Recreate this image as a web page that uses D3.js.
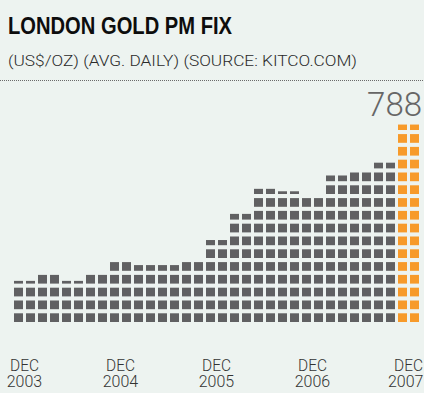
<!DOCTYPE html>
<html>
<head>
<meta charset="utf-8">
<script src="https://cdn.jsdelivr.net/npm/d3@7"></script>
<style>
  html, body { margin: 0; padding: 0; background: #edf3f0; }
  svg { display: block; }
</style>
</head>
<body>
<svg id="chart" width="424" height="393"></svg>
<script>
// Quarterly average of the London PM gold fix, US$ per ounce
const quarters = ["Q4 2003", "Q1 2004", "Q2 2004", "Q3 2004", "Q4 2004",
                  "Q1 2005", "Q2 2005", "Q3 2005", "Q4 2005", "Q1 2006",
                  "Q2 2006", "Q3 2006", "Q4 2006", "Q1 2007", "Q2 2007",
                  "Q3 2007", "Q4 2007"];
const goldPrice = [394, 416, 394, 416, 448, 437, 437, 448, 499, 565,
                   627, 618, 608, 661, 672, 693, 788];
// Axis labels sit under every fourth quarter (each December)
const tickQuarters = ["Q4 2003", "Q4 2004", "Q4 2005", "Q4 2006", "Q4 2007"];
const tickLabels = [["DEC", "2003"], ["DEC", "2004"], ["DEC", "2005"], ["DEC", "2006"], ["DEC", "2007"]];
const highlightQuarter = "Q4 2007";

// Each square stands for a fixed step of price above the base value
const baseValue = 288;
const squareValue = 32;
const colsPerQuarter = 2;

const W = 424;
const svg = d3.select("#chart");

// Heading
svg.append("text")
  .attr("x", 8).attr("y", 34.3)
  .attr("font-family", "'Liberation Sans', Arial, sans-serif")
  .attr("font-size", 23.2).attr("font-weight", 700)
  .attr("fill", "#0d0d0d")
  .attr("textLength", 224).attr("lengthAdjust", "spacingAndGlyphs")
  .text("LONDON GOLD PM FIX");

svg.append("text")
  .attr("x", 8).attr("y", 65.8)
  .attr("font-family", "Roboto, 'Liberation Sans', sans-serif")
  .attr("font-weight", 300)
  .attr("font-size", 15.5)
  .attr("fill", "#2a2a2a")
  .attr("textLength", 349).attr("lengthAdjust", "spacingAndGlyphs")
  .text("(US$/OZ) (AVG. DAILY) (SOURCE: KITCO.COM)");

svg.append("line")
  .attr("x1", 0).attr("x2", W)
  .attr("y1", 80.5).attr("y2", 80.5)
  .attr("stroke", "#6a6a6a").attr("stroke-width", 1)
  .attr("stroke-dasharray", "1 1");

// One band per drawn column; each quarter spans two columns
const columns = d3.range(quarters.length * colsPerQuarter);
const x = d3.scaleBand()
  .domain(columns)
  .range([12.5, 420.5])
  .paddingInner(0.25)
  .paddingOuter(0.125);

const maxSquares = 16;
const y = d3.scaleLinear()
  .domain([baseValue, baseValue + squareValue * maxSquares])
  .range([322, 117.2]);

const slot = y(baseValue) - y(baseValue + squareValue);
const squareH = slot * 0.68;

// Build one cell per square (full or partial top square)
const cells = [];
columns.forEach(c => {
  const q = Math.floor(c / colsPerQuarter);
  const v = goldPrice[q];
  const n = (v - baseValue) / squareValue;
  const full = Math.floor(n + 1e-9);
  const frac = n - full;
  for (let k = 0; k < full; k++) {
    cells.push({ col: c, quarter: quarters[q], k, frac: 1 });
  }
  if (frac > 0.05) cells.push({ col: c, quarter: quarters[q], k: full, frac });
});

svg.append("g")
  .selectAll("rect")
  .data(cells)
  .join("rect")
  .attr("x", d => x(d.col))
  .attr("width", x.bandwidth())
  .attr("y", d => y(baseValue + squareValue * d.k) - squareH * d.frac)
  .attr("height", d => squareH * d.frac)
  .attr("fill", d => d.quarter === highlightQuarter ? "#f79a2a" : "#606062");

// Value label above the highlighted quarter
const hi = quarters.indexOf(highlightQuarter);
svg.append("text")
  .attr("x", x(hi * colsPerQuarter + colsPerQuarter - 1) + x.bandwidth() + 3)
  .attr("y", 115.7)
  .attr("text-anchor", "end")
  .attr("font-family", "Roboto, 'Open Sans', sans-serif")
  .attr("font-weight", 300)
  .attr("font-size", 33)
  .attr("fill", "#666")
  .text(goldPrice[hi]);

// December labels centred under their quarter, kept inside the frame
const axis = svg.append("g")
  .attr("font-family", "Roboto, 'Liberation Sans', sans-serif")
  .attr("font-weight", 300)
  .attr("font-size", 15.6)
  .attr("fill", "#333");
tickQuarters.forEach((tq, i) => {
  const q = quarters.indexOf(tq);
  const cx = (x(q * colsPerQuarter) + x(q * colsPerQuarter + colsPerQuarter - 1) + x.bandwidth()) / 2;
  [0, 1].forEach(line => {
    const t = axis.append("text")
      .attr("x", cx)
      .attr("y", line === 0 ? 371 : 386.7)
      .attr("text-anchor", "middle")
      .attr("textLength", line === 0 ? 29 : 35.5)
      .attr("lengthAdjust", "spacingAndGlyphs")
      .text(tickLabels[i][line]);
    const half = (line === 0 ? 29 : 35.5) / 2;
    if (cx + half > W - 0.5) t.attr("x", W - 0.5 - half);
  });
});
</script>
</body>
</html>
